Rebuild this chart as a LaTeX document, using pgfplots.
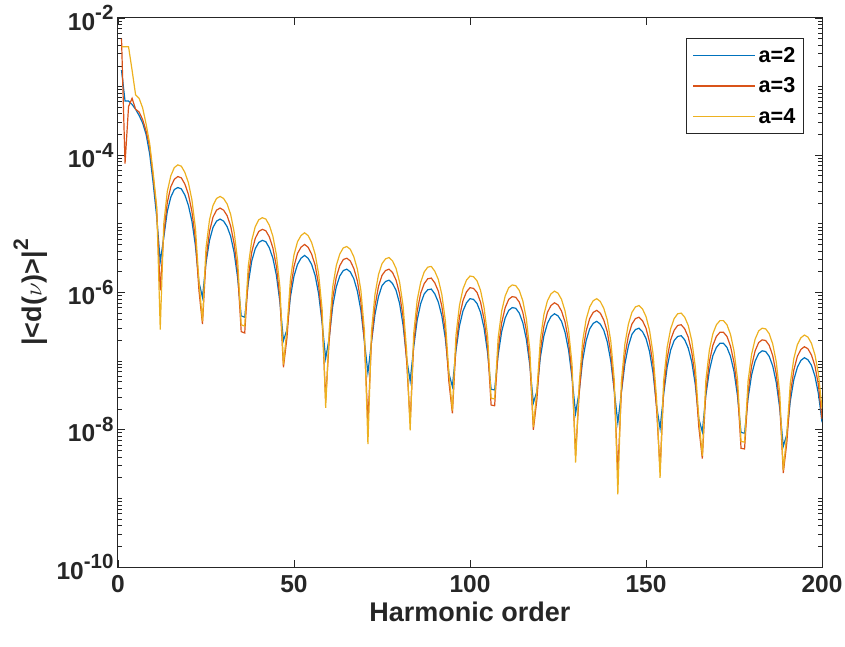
\documentclass[border=0pt]{standalone}
\usepackage{fontspec}
\setmainfont{Liberation Sans}
\usepackage{pgfplots}
\usepackage{pgfplotstable}
\pgfplotsset{compat=1.18}

\definecolor{mblue}{RGB}{0,114,189}
\definecolor{mred}{RGB}{217,83,25}
\definecolor{myellow}{RGB}{237,177,32}
\definecolor{axgray}{RGB}{38,38,38}

% y values are log10 of |<d(nu)>|^2
\newcommand{\tp}[1]{10\raisebox{0.42em}{\fontsize{20.5}{20.5}\selectfont #1}}

\pgfplotstableread{
x a2 a3 a4
1 -2.76 -2.30 -2.42
2 -3.21 -4.12 -2.42
3 -3.21 -3.29 -2.42
4 -3.26 -3.17 -2.76
5 -3.33 -3.33 -3.12
6 -3.42 -3.37 -3.17
7 -3.53 -3.48 -3.31
8 -3.70 -3.65 -3.55
9 -3.98 -3.88 -3.83
10 -4.41 -4.31 -4.26
11 -4.90 -4.80 -4.75
12 -5.55 -5.97 -6.54
13 -5.20 -5.15 -5.00
14 -4.82 -4.69 -4.53
15 -4.61 -4.46 -4.30
16 -4.50 -4.35 -4.18
17 -4.47 -4.31 -4.14
18 -4.49 -4.33 -4.16
19 -4.58 -4.42 -4.25
20 -4.73 -4.57 -4.40
21 -4.96 -4.82 -4.65
22 -5.32 -5.22 -5.06
23 -5.85 -5.97 -5.84
24 -6.07 -6.46 -6.42
25 -5.57 -5.51 -5.35
26 -5.24 -5.11 -4.94
27 -5.05 -4.90 -4.73
28 -4.96 -4.80 -4.63
29 -4.93 -4.77 -4.60
30 -4.96 -4.80 -4.63
31 -5.04 -4.88 -4.71
32 -5.18 -5.03 -4.86
33 -5.42 -5.29 -5.12
34 -5.79 -5.70 -5.54
35 -6.34 -6.57 -6.47
36 -6.36 -6.59 -6.49
37 -5.87 -5.78 -5.62
38 -5.54 -5.41 -5.24
39 -5.36 -5.21 -5.04
40 -5.27 -5.11 -4.94
41 -5.24 -5.08 -4.91
42 -5.26 -5.10 -4.93
43 -5.35 -5.19 -5.02
44 -5.50 -5.35 -5.18
45 -5.75 -5.62 -5.45
46 -6.14 -6.08 -5.92
47 -6.70 -7.09 -7.05
48 -6.54 -6.66 -6.53
49 -6.06 -5.96 -5.80
50 -5.76 -5.62 -5.45
51 -5.59 -5.43 -5.26
52 -5.50 -5.34 -5.17
53 -5.46 -5.30 -5.13
54 -5.50 -5.34 -5.17
55 -5.59 -5.44 -5.27
56 -5.75 -5.60 -5.44
57 -6.02 -5.89 -5.73
58 -6.45 -6.40 -6.25
59 -6.96 -7.57 -7.68
60 -6.66 -6.70 -6.55
61 -6.20 -6.08 -5.92
62 -5.92 -5.78 -5.61
63 -5.76 -5.61 -5.44
64 -5.68 -5.52 -5.35
65 -5.66 -5.50 -5.33
66 -5.70 -5.54 -5.37
67 -5.80 -5.65 -5.48
68 -5.98 -5.83 -5.66
69 -6.26 -6.14 -5.97
70 -6.71 -6.70 -6.55
71 -7.17 -7.90 -8.21
72 -6.73 -6.72 -6.57
73 -6.32 -6.20 -6.03
74 -6.06 -5.91 -5.74
75 -5.90 -5.75 -5.58
76 -5.84 -5.68 -5.51
77 -5.82 -5.66 -5.49
78 -5.87 -5.71 -5.54
79 -5.97 -5.82 -5.65
80 -6.16 -6.02 -5.85
81 -6.48 -6.36 -6.20
82 -6.96 -7.00 -6.85
83 -7.29 -7.90 -8.01
84 -6.80 -6.75 -6.60
85 -6.40 -6.27 -6.11
86 -6.16 -6.01 -5.85
87 -6.02 -5.87 -5.70
88 -5.96 -5.80 -5.63
89 -5.95 -5.79 -5.62
90 -6.02 -5.86 -5.69
91 -6.14 -5.98 -5.81
92 -6.34 -6.20 -6.03
93 -6.67 -6.57 -6.41
94 -7.18 -7.30 -7.17
95 -7.37 -7.76 -7.72
96 -6.85 -6.79 -6.63
97 -6.49 -6.36 -6.19
98 -6.27 -6.12 -5.95
99 -6.15 -5.99 -5.82
100 -6.09 -5.93 -5.76
101 -6.10 -5.94 -5.77
102 -6.16 -6.00 -5.83
103 -6.29 -6.14 -5.97
104 -6.52 -6.39 -6.22
105 -6.88 -6.79 -6.63
106 -7.41 -7.64 -7.54
107 -7.42 -7.65 -7.55
108 -6.91 -6.82 -6.66
109 -6.57 -6.44 -6.27
110 -6.37 -6.22 -6.05
111 -6.26 -6.10 -5.93
112 -6.22 -6.06 -5.89
113 -6.23 -6.07 -5.90
114 -6.30 -6.14 -5.97
115 -6.44 -6.29 -6.12
116 -6.68 -6.55 -6.38
117 -7.06 -7.00 -6.84
118 -7.61 -8.00 -7.96
119 -7.44 -7.56 -7.43
120 -6.94 -6.84 -6.68
121 -6.63 -6.49 -6.32
122 -6.45 -6.29 -6.12
123 -6.35 -6.19 -6.02
124 -6.31 -6.15 -5.98
125 -6.34 -6.18 -6.01
126 -6.42 -6.27 -6.10
127 -6.58 -6.43 -6.27
128 -6.84 -6.71 -6.55
129 -7.25 -7.20 -7.05
130 -7.76 -8.37 -8.48
131 -7.45 -7.49 -7.34
132 -6.99 -6.87 -6.71
133 -6.70 -6.56 -6.39
134 -6.53 -6.38 -6.21
135 -6.45 -6.29 -6.12
136 -6.42 -6.26 -6.09
137 -6.46 -6.30 -6.13
138 -6.55 -6.40 -6.23
139 -6.72 -6.57 -6.40
140 -7.00 -6.88 -6.71
141 -7.44 -7.43 -7.28
142 -7.90 -8.63 -8.94
143 -7.46 -7.45 -7.30
144 -7.04 -6.92 -6.75
145 -6.78 -6.63 -6.46
146 -6.61 -6.46 -6.29
147 -6.54 -6.38 -6.21
148 -6.52 -6.36 -6.19
149 -6.57 -6.41 -6.24
150 -6.67 -6.52 -6.35
151 -6.86 -6.72 -6.55
152 -7.17 -7.05 -6.89
153 -7.65 -7.69 -7.54
154 -7.98 -8.59 -8.70
155 -7.49 -7.44 -7.29
156 -7.09 -6.96 -6.80
157 -6.84 -6.69 -6.53
158 -6.70 -6.55 -6.38
159 -6.64 -6.48 -6.31
160 -6.63 -6.47 -6.30
161 -6.69 -6.53 -6.36
162 -6.81 -6.65 -6.48
163 -7.01 -6.87 -6.70
164 -7.34 -7.24 -7.08
165 -7.84 -7.96 -7.83
166 -8.03 -8.42 -8.38
167 -7.50 -7.44 -7.28
168 -7.14 -7.01 -6.84
169 -6.92 -6.77 -6.60
170 -6.80 -6.64 -6.47
171 -6.74 -6.58 -6.41
172 -6.74 -6.58 -6.41
173 -6.80 -6.64 -6.47
174 -6.93 -6.78 -6.61
175 -7.15 -7.02 -6.85
176 -7.51 -7.42 -7.26
177 -8.04 -8.27 -8.17
178 -8.05 -8.28 -8.18
179 -7.54 -7.45 -7.29
180 -7.20 -7.07 -6.90
181 -7.00 -6.85 -6.68
182 -6.89 -6.73 -6.56
183 -6.85 -6.69 -6.52
184 -6.86 -6.70 -6.53
185 -6.93 -6.77 -6.60
186 -7.07 -6.92 -6.75
187 -7.31 -7.18 -7.01
188 -7.69 -7.63 -7.47
189 -8.24 -8.63 -8.59
190 -8.07 -8.19 -8.06
191 -7.58 -7.48 -7.32
192 -7.27 -7.13 -6.96
193 -7.09 -6.93 -6.76
194 -6.99 -6.83 -6.66
195 -6.95 -6.79 -6.62
196 -6.98 -6.82 -6.65
197 -7.06 -6.91 -6.74
198 -7.22 -7.07 -6.91
199 -7.48 -7.35 -7.19
200 -7.89 -7.84 -7.69
}\spectrum

\begin{document}
\begin{tikzpicture}
\begin{axis}[
    at={(0,0)}, anchor=south west,
    scale only axis, width=704pt, height=549pt,
    xmin=0, xmax=200, ymin=-10, ymax=-2,
    xtick={0,50,100,150,200}, xticklabels={0,50,100,150,200},
    ytick={-10,-8,-6,-4,-2},
    yticklabels={\tp{-10},\tp{-8},\tp{-6},\tp{-4},\tp{-2}},
    minor ytick={-9.699,-9.523,-9.398,-9.301,-9.222,-9.155,-9.097,-9.046,-9,
                 -8.699,-8.523,-8.398,-8.301,-8.222,-8.155,-8.097,-8.046,
                 -7.699,-7.523,-7.398,-7.301,-7.222,-7.155,-7.097,-7.046,-7,
                 -6.699,-6.523,-6.398,-6.301,-6.222,-6.155,-6.097,-6.046,
                 -5.699,-5.523,-5.398,-5.301,-5.222,-5.155,-5.097,-5.046,-5,
                 -4.699,-4.523,-4.398,-4.301,-4.222,-4.155,-4.097,-4.046,
                 -3.699,-3.523,-3.398,-3.301,-3.222,-3.155,-3.097,-3.046,-3,
                 -2.699,-2.523,-2.398,-2.301,-2.222,-2.155,-2.097,-2.046},
    tick align=inside, xtick pos=both, ytick pos=both,
    major tick length=7pt, minor tick length=4pt,
    axis line style={axgray, line width=1pt},
    every tick/.style={axgray, line width=0.9pt},
    ticklabel style={font=\fontsize{24.5}{24.5}\selectfont\bfseries, text=axgray},
    xticklabel style={yshift=-5pt},
    yticklabel style={xshift=-1pt},
    label style={font=\fontsize{27}{28}\selectfont\bfseries, text=axgray},
    xlabel={Harmonic order},
    xlabel style={yshift=-2pt},
    ylabel={|<d($\nu$)>|\raisebox{0.5em}{\fontsize{21}{21}\selectfont 2}},
    ylabel style={yshift=2pt},
    legend image code/.code={\draw[#1] (0pt,0pt) -- (62pt,0pt);},
    legend cell align=left,
    legend style={at={(0.974,0.964)}, anchor=north east,
        draw=axgray, line width=0.8pt, fill=white,
        font=\fontsize{21.6}{22}\selectfont\bfseries,
        inner xsep=6pt, inner ysep=7pt, row sep=10pt, column sep=1pt,
        nodes={inner sep=2pt}},
]
\addplot[mblue, line width=1.2pt] table[x=x, y=a2] {\spectrum};
\addlegendentry{a=2}
\addplot[mred, line width=1.2pt] table[x=x, y=a3] {\spectrum};
\addlegendentry{a=3}
\addplot[myellow, line width=1.2pt] table[x=x, y=a4] {\spectrum};
\addlegendentry{a=4}
\end{axis}
\pgfresetboundingbox
\path (-118pt,-79pt) rectangle (727pt,567pt);
\end{tikzpicture}
\end{document}
